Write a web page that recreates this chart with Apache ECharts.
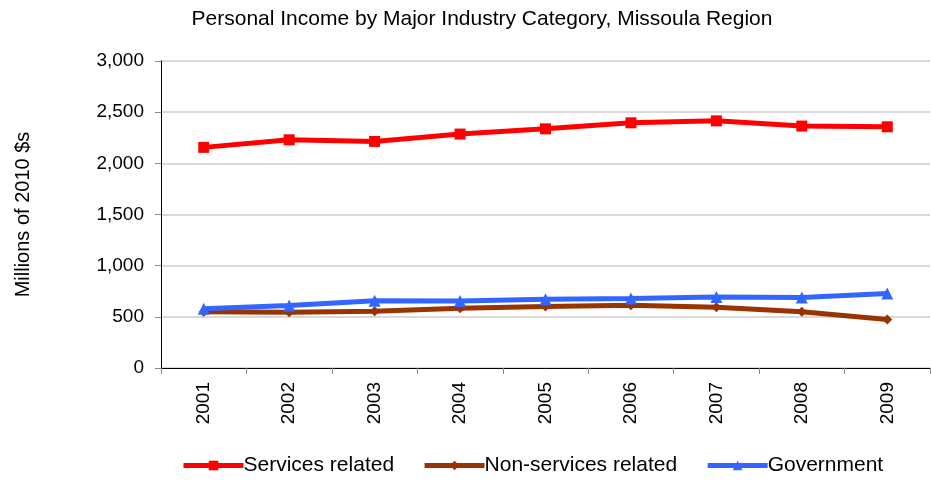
<!DOCTYPE html>
<html>
<head>
<meta charset="utf-8">
<script src="https://cdn.jsdelivr.net/npm/echarts@6/dist/echarts.min.js"></script>
<style>
html,body{margin:0;padding:0;background:#fff;}
#chart{width:931px;height:483px;}
</style>
</head>
<body>
<div id="chart"></div>
<script>
const years = ['2001','2002','2003','2004','2005','2006','2007','2008','2009'];
const servicesRelated = [2156, 2230, 2214, 2286, 2337, 2396, 2415, 2364, 2357];
const nonServicesRelated = [549, 545, 554, 584, 600, 613, 593, 549, 475];
const government = [580, 610, 656, 655, 672, 678, 695, 690, 728];
const seriesNames = ['Services related', 'Non-services related', 'Government'];

const font = 'Liberation Sans, Arial, sans-serif';
const chart = echarts.init(document.getElementById('chart'));
chart.setOption({
  animation: false,
  title: {
    text: 'Personal Income by Major Industry Category, Missoula Region',
    left: 477, top: 4, textAlign: 'center',
    textStyle: {fontFamily: font, fontSize: 21, fontWeight: 'normal', color: '#000'}
  },
  legend: {
    bottom: 2, left: 176, itemGap: 28, itemWidth: 60, itemHeight: 12,
    textStyle: {fontFamily: font, fontSize: 21, color: '#000', padding: [0,0,0,-5]},
    lineStyle: {width: 5},
    data: seriesNames
  },
  grid: {left: 161, right: 1, top: 61, bottom: 115},
  xAxis: {
    type: 'category', data: years, boundaryGap: true,
    axisLine: {lineStyle: {color: '#000', width: 1}},
    axisTick: {show: true, length: 6, lineStyle: {color: '#888'}},
    axisLabel: {rotate: 90, fontFamily: font, fontSize: 19, color: '#000', margin: 14}
  },
  yAxis: {
    type: 'value', min: 0, max: 3000, interval: 500,
    name: 'Millions of 2010 $s', nameLocation: 'middle', nameGap: 128, nameRotate: 90,
    nameTextStyle: {fontFamily: font, fontSize: 20, color: '#000'},
    axisLine: {show: true, lineStyle: {color: '#000', width: 1}},
    axisTick: {show: true, length: 6, lineStyle: {color: '#888'}},
    splitLine: {lineStyle: {color: '#d9d9d9', width: 2}},
    axisLabel: {fontFamily: font, fontSize: 19, color: '#000', margin: 17,
      formatter: v => v.toLocaleString('en-US')}
  },
  series: [
    {name: seriesNames[0], type: 'line', data: servicesRelated,
     symbol: 'rect', symbolSize: 11, color: '#ff0000',
     lineStyle: {width: 5, color: '#ff0000'}, itemStyle: {color: '#ff0000'}},
    {name: seriesNames[1], type: 'line', data: nonServicesRelated,
     symbol: 'diamond', symbolSize: 10, color: '#993300',
     lineStyle: {width: 5, color: '#993300'}, itemStyle: {color: '#993300'}},
    {name: seriesNames[2], type: 'line', data: government,
     symbol: 'triangle', symbolSize: 12, color: '#3366ff',
     lineStyle: {width: 5, color: '#3366ff'}, itemStyle: {color: '#3366ff'}}
  ]
});
</script>
</body>
</html>
